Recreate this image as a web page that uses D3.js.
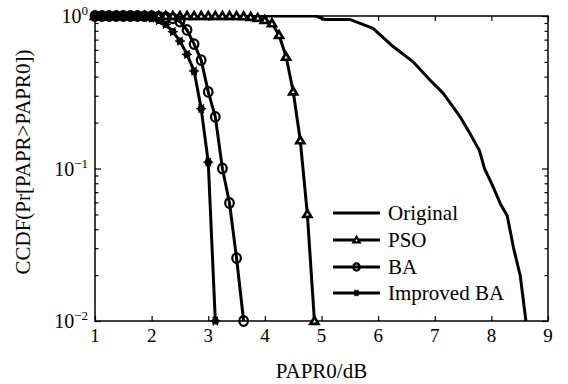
<!DOCTYPE html>
<html><head><meta charset="utf-8">
<script src="https://cdn.jsdelivr.net/npm/d3@7"></script>
<style>body{margin:0;background:#fff}svg{display:block}text{font-family:"Liberation Serif","Times New Roman",serif;fill:#000}</style>
</head><body><svg id="c" width="568" height="384"></svg>
<script>
// ---- data ----
const xTicks = [1,2,3,4,5,6,7,8,9];
const yTicks = [1,0.1,0.01];
const yTickExp = ["0","\u22121","\u22122"];
const seriesNames = ["Original","PSO","BA","Improved BA"];
const originalX = [1,2,3,4,4.9,5.05,5.5,5.91,6.27,6.62,6.92,7.15,7.45,7.62,7.79,7.88,8.01,8.16,8.28,8.39,8.51,8.61];
const originalY = [1,1,1,1,1,0.95,0.95,0.83,0.628,0.5,0.379,0.311,0.218,0.17,0.131,0.0995,0.079,0.0586,0.049,0.0303,0.0198,0.01];
const psoX = [1,1.125,1.25,1.375,1.5,1.625,1.75,1.875,2,2.125,2.25,2.375,2.5,2.625,2.75,2.875,3,3.125,3.25,3.375,3.5,3.625,3.75,3.875,4,4.125,4.25,4.375,4.5,4.625,4.75,4.875];
const psoY = [1,1,1,1,1,1,1,1,1,1,1,1,1,1,1,1,1,1,1,1,0.999,0.995,0.985,0.97,0.94,0.895,0.75,0.54,0.32,0.153,0.0503,0.01];
const baX = [1,1.125,1.25,1.375,1.5,1.625,1.75,1.875,2,2.125,2.25,2.375,2.5,2.625,2.75,2.875,3,3.125,3.25,3.375,3.5,3.625];
const baY = [1,1,1,1,1,1,1,0.999,0.997,0.992,0.982,0.965,0.92,0.81,0.654,0.514,0.318,0.218,0.1,0.0594,0.0258,0.01];
const ibaX = [1,1.125,1.25,1.375,1.5,1.625,1.75,1.875,2,2.125,2.25,2.375,2.5,2.625,2.75,2.875,3,3.125];
const ibaY = [1,1,1,1,1,0.998,0.993,0.985,0.97,0.935,0.88,0.789,0.685,0.56,0.436,0.247,0.11,0.01];

const FONT = "'Liberation Serif','Times New Roman',serif";
const svg = d3.select("#c");
const L=95,R=548,T=16,B=321;
const x = d3.scaleLinear().domain([1,9]).range([L,R]);
const y = d3.scaleLog().domain([0.01,1]).range([B,T]);

svg.append("defs").append("clipPath").attr("id","clip").append("rect")
  .attr("x",L).attr("y",T-1).attr("width",R-L).attr("height",B-T+2);

// axes with inward ticks
const minor = [];
for (const d of [0.01,0.1]) for (let k=2;k<=9;k++) minor.push(d*k);
svg.append("rect").attr("x",L).attr("y",T).attr("width",R-L).attr("height",B-T).attr("fill","none").attr("stroke","#000").attr("stroke-width",1.5);
function tickG(tr, axis){
  svg.append("g").attr("transform",tr).call(axis).call(g=>g.select(".domain").remove()).selectAll("line").attr("stroke-width",1.2);
}
tickG(`translate(0,${B})`, d3.axisTop(x).tickValues(xTicks).tickSize(5).tickFormat(""));
tickG(`translate(0,${T})`, d3.axisBottom(x).tickValues(xTicks).tickSize(5).tickFormat(""));
tickG(`translate(${L},0)`, d3.axisRight(y).tickValues(yTicks).tickSize(6).tickFormat(""));
tickG(`translate(${L},0)`, d3.axisRight(y).tickValues(minor).tickSize(3.5).tickFormat(""));
tickG(`translate(${R},0)`, d3.axisLeft(y).tickValues(yTicks).tickSize(6).tickFormat(""));
tickG(`translate(${R},0)`, d3.axisLeft(y).tickValues(minor).tickSize(3.5).tickFormat(""));

// tick labels
svg.append("g").selectAll("text").data(xTicks).join("text")
  .attr("font-family",FONT).attr("x",d=>x(d)).attr("y",B+21).attr("text-anchor","middle").attr("font-size",19).text(d=>d);
const yl = svg.append("g").selectAll("text").data(yTicks).join("text")
  .attr("font-family",FONT).attr("x",L-7).attr("y",d=>y(d)+7).attr("text-anchor","end").attr("font-size",20);
yl.append("tspan").text("10");
yl.append("tspan").attr("dy",-8).attr("font-size",13).text((d,i)=>yTickExp[i]);

svg.append("text").attr("font-family",FONT).attr("x",(L+R)/2).attr("y",B+57).attr("text-anchor","middle").attr("font-size",21).text("PAPR0/dB");
svg.append("text").attr("font-family",FONT).attr("transform",`translate(30,${162}) rotate(-90)`).attr("text-anchor","middle").attr("font-size",21).text("CCDF(Pr[PAPR>PAPR0])");

// lines
const line = d3.line().x(d=>x(d[0])).y(d=>y(Math.max(d[1],0.01)));
const zip = (a,b)=>a.map((v,i)=>[v,b[i]]);
const data = [zip(originalX,originalY),zip(psoX,psoY),zip(baX,baY),zip(ibaX,ibaY)];
const gl = svg.append("g").attr("clip-path","url(#clip)");
data.forEach(d=>gl.append("path").datum(d).attr("d",line).attr("fill","none").attr("stroke","#000").attr("stroke-width",3).attr("stroke-linejoin","round"));

// markers
function marker(g,type,cx,cy,s){
  if(type==="tri"){
    g.append("path").attr("d",`M${cx},${cy-5*s}L${cx+5*s},${cy+3.5*s}L${cx-5*s},${cy+3.5*s}Z`).attr("fill","#000").attr("stroke","#000").attr("stroke-width",1.5);
    g.append("path").attr("d",`M${cx},${cy-1.2*s}L${cx+1.6*s},${cy+1.6*s}L${cx-1.6*s},${cy+1.6*s}Z`).attr("fill","#fff");
  } else if(type==="circ"){
    g.append("ellipse").attr("cx",cx).attr("cy",cy).attr("rx",4.3*s).attr("ry",4.8*s).attr("fill","none").attr("stroke","#000").attr("stroke-width",2.2);
  } else {
    g.append("circle").attr("cx",cx).attr("cy",cy).attr("r",3.6*s).attr("fill","#000");
    for(const a of [0,60,120]){
      const r=a*Math.PI/180;
      g.append("line").attr("x1",cx-5*s*Math.cos(r)).attr("y1",cy-5*s*Math.sin(r)).attr("x2",cx+5*s*Math.cos(r)).attr("y2",cy+5*s*Math.sin(r)).attr("stroke","#000").attr("stroke-width",1.3);
    }
  }
}
const gm = svg.append("g");
const types=[null,"tri","circ","star"];
[1,2,3].forEach(i=>data[i].filter(d=>d[1]>=0.01).forEach(d=>marker(gm,types[i],x(d[0]),y(d[1]),1)));

// legend
const ly=[213,240,267,293];
const lg=svg.append("g");
seriesNames.forEach((n,i)=>{
  lg.append("line").attr("x1",333).attr("x2",380).attr("y1",ly[i]).attr("y2",ly[i]).attr("stroke","#000").attr("stroke-width",3);
  if(types[i]) marker(lg,types[i],356.5,ly[i],0.75);
  lg.append("text").attr("font-family",FONT).attr("x",388).attr("y",ly[i]+7).attr("font-size",21).text(n);
});
</script></body></html>
